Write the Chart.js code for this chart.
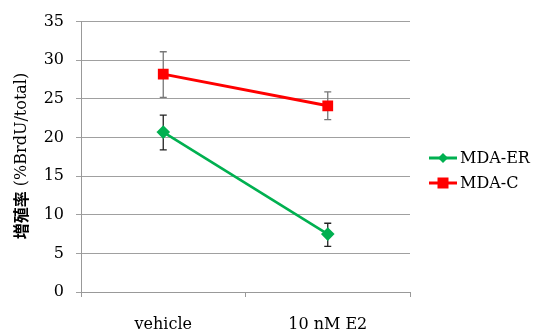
<!DOCTYPE html>
<html>
<head>
<meta charset="utf-8">
<script src="https://cdn.jsdelivr.net/npm/chart.js@4.4.1/dist/chart.umd.min.js"></script>
<style>
  html, body { margin: 0; padding: 0; background: #fff; }
  #wrap { width: 536px; height: 329px; }
</style>
</head>
<body>
<div id="wrap"><canvas id="c"></canvas></div>
<script>
const categories = ['vehicle', '10 nM E2'];
const yTicks = [0, 5, 10, 15, 20, 25, 30, 35];

const erValues = [20.7, 7.5];
const erLow = [18.4, 5.9];
const erHigh = [22.9, 8.9];

const cValues = [28.2, 24.1];
const cLow = [25.2, 22.3];
const cHigh = [31.1, 25.9];

const serif = '"DejaVu Serif", "Noto Sans CJK JP", serif';
const green = '#00b050';
const red = '#ff0000';

// error bars, drawn under the markers
const errorBars = {
    id: 'errorBars',
    beforeDatasetsDraw(chart) {
        const ctx = chart.ctx;
        const y = chart.scales.y;
        chart.data.datasets.forEach((ds, i) => {
            const meta = chart.getDatasetMeta(i);
            ctx.save();
            ctx.strokeStyle = ds.errColor;
            ctx.lineWidth = 1.3;
            meta.data.forEach((pt, j) => {
                const top = y.getPixelForValue(ds.errHigh[j]);
                const bot = y.getPixelForValue(ds.errLow[j]);
                ctx.beginPath();
                ctx.moveTo(pt.x, top);
                ctx.lineTo(pt.x, bot);
                ctx.moveTo(pt.x - 3.5, top);
                ctx.lineTo(pt.x + 3.5, top);
                ctx.moveTo(pt.x - 3.5, bot);
                ctx.lineTo(pt.x + 3.5, bot);
                ctx.stroke();
            });
            ctx.restore();
        });
    }
};

// legend on the right + y title with two weights
const extras = {
    id: 'extras',
    afterDraw(chart) {
        const ctx = chart.ctx;
        ctx.save();
        const rows = [[0, 158], [1, 183]];
        rows.forEach(([i, yy]) => {
            const ds = chart.data.datasets[i];
            ctx.strokeStyle = ds.borderColor;
            ctx.lineWidth = 3;
            ctx.beginPath();
            ctx.moveTo(429, yy);
            ctx.lineTo(457, yy);
            ctx.stroke();
            ctx.fillStyle = ds.borderColor;
            const r = ds.pointRadius;
            ctx.beginPath();
            if (ds.pointStyle === 'rect') {
                ctx.rect(443 - r, yy - r, 2 * r, 2 * r);
            } else {
                ctx.moveTo(443, yy - r);
                ctx.lineTo(443 + r, yy);
                ctx.lineTo(443, yy + r);
                ctx.lineTo(443 - r, yy);
                ctx.closePath();
            }
            ctx.fill();
            ctx.fillStyle = '#000';
            ctx.font = '16px ' + serif;
            ctx.textBaseline = 'middle';
            ctx.textAlign = 'left';
            ctx.fillText(ds.label, 460, yy + 1);
        });

        // y axis title
        ctx.translate(21, 156);
        ctx.rotate(-Math.PI / 2);
        ctx.textBaseline = 'middle';
        ctx.fillStyle = '#000';
        const cjk = '増殖率';
        const lat = ' (%BrdU/total)';
        ctx.font = 'bold 16px "Noto Sans CJK JP"';
        const w1 = ctx.measureText(cjk).width;
        ctx.font = '16px ' + serif;
        const w2 = ctx.measureText(lat).width;
        const x0 = -(w1 + w2) / 2;
        ctx.font = 'bold 16px "Noto Sans CJK JP"';
        ctx.fillText(cjk, x0, 0);
        ctx.font = '16px ' + serif;
        ctx.fillText(lat, x0 + w1, 1);
        ctx.restore();
    }
};

new Chart(document.getElementById('c'), {
    type: 'line',
    data: {
        labels: categories,
        datasets: [{
            label: 'MDA-ER',
            data: erValues,
            errLow: erLow,
            errHigh: erHigh,
            errColor: '#222',
            borderColor: green,
            backgroundColor: green,
            borderWidth: 2.6,
            pointStyle: 'rectRot',
            pointRadius: 5,
            pointHoverRadius: 5
        }, {
            label: 'MDA-C',
            data: cValues,
            errLow: cLow,
            errHigh: cHigh,
            errColor: '#777',
            borderColor: red,
            backgroundColor: red,
            borderWidth: 3,
            pointStyle: 'rect',
            pointRadius: 5.5,
            pointHoverRadius: 5.5
        }]
    },
    options: {
        responsive: true,
        maintainAspectRatio: false,
        animation: false,
        layout: { padding: { top: 17, right: 126, left: 6, bottom: 0 } },
        plugins: {
            legend: { display: false },
            tooltip: { enabled: false }
        },
        scales: {
            x: {
                offset: true,
                afterFit: (s) => { s.height = 37; },
                grid: {
                    offset: true,
                    drawOnChartArea: false,
                    drawTicks: true,
                    tickLength: 5,
                    color: '#999'
                },
                border: { color: '#999' },
                ticks: {
                    color: '#000',
                    padding: 18,
                    font: { family: serif, size: 16 }
                }
            },
            y: {
                min: 0,
                max: 35,
                afterFit: (s) => { s.width = 75; },
                afterBuildTicks: (s) => { s.ticks = yTicks.map(v => ({ value: v })); },
                grid: { color: '#a0a0a0', tickLength: 5 },
                border: { color: '#999' },
                ticks: {
                    color: '#000',
                    padding: 12,
                    font: { family: serif, size: 16 }
                }
            }
        }
    },
    plugins: [errorBars, extras]
});
</script>
</body>
</html>
